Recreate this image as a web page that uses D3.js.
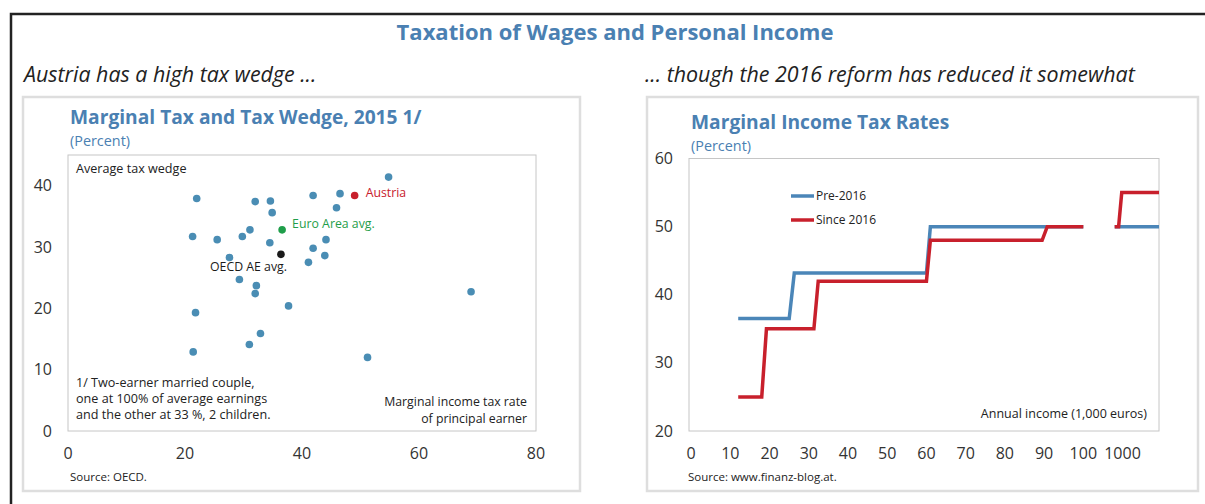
<!DOCTYPE html>
<html>
<head>
<meta charset="utf-8">
<script src="https://cdn.jsdelivr.net/npm/d3@7"></script>
<style>
  body { margin: 0; background: #fff; }
  svg { display: block; font-family: 'Open Sans', sans-serif; }
</style>
</head>
<body>
<script>
const wid = 1205, hei = 504;

// left chart: marginal income tax rate (x) vs average tax wedge (y), 2015
const countryX = [54.8, 22.0, 32.0, 34.6, 34.9, 41.9, 46.5, 45.9, 21.3, 25.5, 29.8, 31.1, 34.5, 44.1,
                  41.9, 43.9, 41.1, 27.6, 29.3, 32.2, 32.0, 37.7, 68.9, 21.8, 32.9, 31.0, 21.4, 51.2];
const countryY = [41.4, 37.9, 37.4, 37.5, 35.6, 38.4, 38.7, 36.4, 31.7, 31.2, 31.7, 32.8, 30.7, 31.2,
                  29.8, 28.6, 27.5, 28.3, 24.7, 23.7, 22.4, 20.4, 22.7, 19.3, 15.9, 14.1, 12.9, 12.0];
const highlightNames = ['Austria', 'Euro Area avg.', 'OECD AE avg.'];
const highlightX = [49.0, 36.6, 36.4];
const highlightY = [38.4, 32.8, 28.8];
const leftXTicks = [0, 20, 40, 60, 80];
const leftYTicks = [0, 10, 20, 30, 40];

// right chart: marginal income tax rates, x in axis units (0..100 = 1,000 euros, 110 = "1000")
const rightXTickLabels = ['0', '10', '20', '30', '40', '50', '60', '70', '80', '90', '100', '1000'];
const rightYTicks = [20, 30, 40, 50, 60];
const pre2016X  = [[12, 25, 26.3, 60, 61, 100], [108, 119.3]];
const pre2016Y  = [[36.5, 36.5, 43.2, 43.2, 50, 50], [50, 50]];
const since2016X = [[12, 18, 19.2, 31.3, 32.4, 60, 61, 89.5, 90.8, 100], [108, 109, 109.8, 119.3]];
const since2016Y = [[25, 25, 35, 35, 42, 42, 48, 48, 50, 50], [50, 50, 55, 55]];

const titleBlue = '#4a80b2', dotBlue = '#4a8db4', lineBlue = '#4b86b8', red = '#c8202c', green = '#1f9e4a';
const textCol = '#333333';

let svg = d3.select('body').append('svg')
    .attr('width', wid)
    .attr('height', hei);

// outer frame (runs off the page to the right and bottom)
svg.append('path')
    .attr('d', 'M11,' + hei + 'V14H' + wid)
    .attr('fill', 'none')
    .attr('stroke', '#222')
    .attr('stroke-width', 2.5);

svg.append('text')
    .text('Taxation of Wages and Personal Income')
    .attr('x', 615).attr('y', 40)
    .attr('text-anchor', 'middle')
    .attr('font-size', 22).attr('font-weight', 'bold')
    .attr('fill', titleBlue);

svg.append('text')
    .text('Austria has a high tax wedge ...')
    .attr('x', 24).attr('y', 82)
    .attr('font-size', 21.4).attr('font-style', 'italic')
    .attr('fill', '#222');

svg.append('text')
    .text('... though the 2016 reform has reduced it somewhat')
    .attr('x', 645).attr('y', 82)
    .attr('font-size', 21.4).attr('font-style', 'italic')
    .attr('fill', '#222');

// panel frames
svg.append('rect')
    .attr('x', 23).attr('y', 97).attr('width', 557).attr('height', 394)
    .attr('fill', 'none').attr('stroke', '#dedede').attr('stroke-width', 2.5);
svg.append('rect')
    .attr('x', 647).attr('y', 97).attr('width', 551).attr('height', 394)
    .attr('fill', 'none').attr('stroke', '#dedede').attr('stroke-width', 2.5);

// ---------- left chart ----------
let xL = d3.scaleLinear().domain([0, 80]).range([68, 536]);
let yL = d3.scaleLinear().domain([0, 45]).range([431, 155]);

svg.append('rect')
    .attr('x', xL(0)).attr('y', yL(45))
    .attr('width', xL(80) - xL(0)).attr('height', yL(0) - yL(45))
    .attr('fill', 'none').attr('stroke', '#c6c6c6').attr('stroke-width', 1);

svg.append('text').text('Marginal Tax and Tax Wedge, 2015 1/')
    .attr('x', 70).attr('y', 124)
    .attr('font-size', 19.2).attr('font-weight', 'bold').attr('fill', titleBlue);
svg.append('text').text('(Percent)')
    .attr('x', 70).attr('y', 146)
    .attr('font-size', 14.4).attr('fill', titleBlue);

svg.append('g').selectAll('text')
    .data(leftYTicks)
    .enter().append('text')
    .text(d => d)
    .attr('x', 52).attr('y', d => yL(d))
    .attr('dy', '0.35em')
    .attr('text-anchor', 'end')
    .attr('font-size', 16).attr('fill', textCol);

svg.append('g').selectAll('text')
    .data(leftXTicks)
    .enter().append('text')
    .text(d => d)
    .attr('x', d => xL(d)).attr('y', 453)
    .attr('dy', '0.35em')
    .attr('text-anchor', 'middle')
    .attr('font-size', 16).attr('fill', textCol);

svg.append('text').text('Average tax wedge')
    .attr('x', 76).attr('y', 173)
    .attr('font-size', 12.6).attr('fill', '#222');

const footnote = ['1/ Two-earner married couple,', 'one at 100% of average earnings', 'and the other at 33 %, 2 children.'];
svg.append('g').selectAll('text')
    .data(footnote)
    .enter().append('text')
    .text(d => d)
    .attr('x', 76).attr('y', (d, i) => 387 + i * 15.8)
    .attr('font-size', 12.6).attr('fill', '#222');

svg.append('text').text('Marginal income tax rate')
    .attr('x', 527).attr('y', 406)
    .attr('text-anchor', 'end').attr('font-size', 12.3).attr('fill', '#222');
svg.append('text').text('of principal earner')
    .attr('x', 527).attr('y', 423)
    .attr('text-anchor', 'end').attr('font-size', 12.3).attr('fill', '#222');

svg.append('text').text('Source: OECD.')
    .attr('x', 70).attr('y', 481)
    .attr('font-size', 11.5).attr('fill', '#222');

svg.append('g').selectAll('circle')
    .data(countryX)
    .enter().append('circle')
    .attr('cx', d => xL(d))
    .attr('cy', (d, i) => yL(countryY[i]))
    .attr('r', 3.8)
    .attr('fill', dotBlue);

const hlColors = [red, green, '#1a1a1a'];
svg.append('g').selectAll('circle')
    .data(highlightX)
    .enter().append('circle')
    .attr('cx', d => xL(d))
    .attr('cy', (d, i) => yL(highlightY[i]))
    .attr('r', 3.8)
    .attr('fill', (d, i) => hlColors[i]);

// label offsets: Austria and Euro Area to the right, OECD below-left
const lblDx = [11, 10, 6], lblDy = [-2.5, -6.5, 12.5], lblAnchor = ['start', 'start', 'end'];
svg.append('g').selectAll('text')
    .data(highlightNames)
    .enter().append('text')
    .text(d => d)
    .attr('x', (d, i) => xL(highlightX[i]) + lblDx[i])
    .attr('y', (d, i) => yL(highlightY[i]) + lblDy[i])
    .attr('dy', '0.35em')
    .attr('text-anchor', (d, i) => lblAnchor[i])
    .attr('font-size', 12.3)
    .attr('fill', (d, i) => hlColors[i]);

// ---------- right chart ----------
let xR = d3.scaleLinear().domain([-0.55, 119.3]).range([689, 1159]);
let yR = d3.scaleLinear().domain([20, 60]).range([431, 158.5]);

svg.append('rect')
    .attr('x', xR(-0.55)).attr('y', yR(60))
    .attr('width', xR(119.3) - xR(-0.55)).attr('height', yR(20) - yR(60))
    .attr('fill', 'none').attr('stroke', '#c6c6c6').attr('stroke-width', 1);

svg.append('text').text('Marginal Income Tax Rates')
    .attr('x', 691).attr('y', 129)
    .attr('font-size', 19.2).attr('font-weight', 'bold').attr('fill', titleBlue);
svg.append('text').text('(Percent)')
    .attr('x', 691).attr('y', 151)
    .attr('font-size', 14.4).attr('fill', titleBlue);

svg.append('g').selectAll('text')
    .data(rightYTicks)
    .enter().append('text')
    .text(d => d)
    .attr('x', 673).attr('y', d => yR(d))
    .attr('dy', '0.35em')
    .attr('text-anchor', 'end')
    .attr('font-size', 16).attr('fill', textCol);

svg.append('g').selectAll('text')
    .data(rightXTickLabels)
    .enter().append('text')
    .text(d => d)
    .attr('x', (d, i) => xR(i * 10)).attr('y', 453)
    .attr('dy', '0.35em')
    .attr('text-anchor', 'middle')
    .attr('font-size', 16).attr('fill', textCol);

svg.append('text').text('Annual income (1,000 euros)')
    .attr('x', 1147).attr('y', 418)
    .attr('text-anchor', 'end').attr('font-size', 12.5)
    .attr('fill', '#222');

svg.append('text').text('Source: www.finanz-blog.at.')
    .attr('x', 688).attr('y', 481)
    .attr('font-size', 11.5).attr('fill', '#222');

let line = d3.line()
    .x(d => xR(d[0]))
    .y(d => yR(d[1]));

function segments(xs, ys) {
    return xs.map((seg, s) => seg.map((x, i) => [x, ys[s][i]]));
}

svg.append('g').selectAll('path')
    .data(segments(pre2016X, pre2016Y))
    .enter().append('path')
    .attr('d', line)
    .attr('fill', 'none').attr('stroke', lineBlue).attr('stroke-width', 3.5);

svg.append('g').selectAll('path')
    .data(segments(since2016X, since2016Y))
    .enter().append('path')
    .attr('d', line)
    .attr('fill', 'none').attr('stroke', red).attr('stroke-width', 3.5);

// legend
const legNames = ['Pre-2016', 'Since 2016'], legColors = [lineBlue, red];
let leg = svg.append('g').selectAll('g')
    .data(legNames)
    .enter().append('g')
    .attr('transform', (d, i) => 'translate(791,' + (196 + i * 24) + ')');
leg.append('line')
    .attr('x1', 0).attr('x2', 23)
    .attr('stroke', (d, i) => legColors[i]).attr('stroke-width', 3.5);
leg.append('text')
    .text(d => d)
    .attr('x', 25).attr('dy', '0.35em')
    .attr('font-size', 12).attr('fill', '#222');
</script>
</body>
</html>
